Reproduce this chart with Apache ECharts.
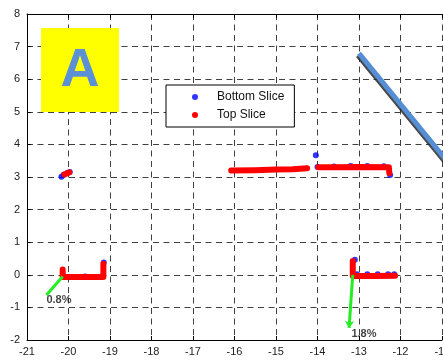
<!DOCTYPE html>
<html>
<head>
<meta charset="utf-8">
<script src="https://cdn.jsdelivr.net/npm/echarts@6/dist/echarts.min.js"></script>
<style>
  html, body { margin: 0; padding: 0; background: #fff; }
  #chart { width: 443px; height: 360px; }
</style>
</head>
<body>
<div id="chart"></div>
<script>
// axis ticks
const xTicks = [-21, -11];
const yTicks = [-2, 8];

// bottom slice points (blue)
const bottomSlice = [
    [-20.17, 3.01], [-20.12, 3.06], [-20.02, 3.13], [-19.97, 3.15],
    [-14.04, 3.67], [-14.0, 3.31], [-13.6, 3.32], [-13.2, 3.34], [-12.8, 3.34], [-12.4, 3.33], [-12.25, 3.06],
    [-19.15, 0.38], [-20.13, -0.03], [-19.6, -0.05],
    [-13.1, 0.46], [-13.05, 0.02], [-12.8, 0.02], [-12.55, 0.02], [-12.3, 0.02], [-12.15, 0.02]
];

// top slice segments (red)
const topSlice = [
    [[-20.1, 3.08], [-19.98, 3.14]],
    [[-16.08, 3.2], [-15.5, 3.21], [-15.0, 3.23], [-14.6, 3.24], [-14.25, 3.27]],
    [[-13.98, 3.3], [-13.5, 3.3], [-13.0, 3.31], [-12.28, 3.3], [-12.27, 3.12]],
    [[-20.14, 0.16], [-20.14, -0.07], [-19.6, -0.07], [-19.16, -0.07], [-19.16, 0.34]],
    [[-13.15, 0.42], [-13.15, -0.04], [-12.6, -0.04], [-12.13, -0.03]]
];

// shift arrows and their labels
const shiftA = [[-20.14, -0.05], [-20.53, -0.62]];
const shiftB = [[-13.15, 0.0], [-13.24, -1.63]];
const shiftLabels = [[-20.23, -0.78, '0.8%'], [-12.88, -1.83, '1.8%']];

// diagonal reference line
const diagLine = [[-13.0, 6.79], [-10.9, 3.52]];

const chart = echarts.init(document.getElementById('chart'));

const dash = {type: [6, 4.5], color: '#404040', width: 1};
const tickFont = {fontFamily: 'Liberation Sans, Arial', fontSize: 11, color: '#222'};

const series = [];
topSlice.forEach(function (seg) {
    series.push({
        name: 'Top Slice',
        type: 'line',
        data: seg,
        symbol: 'none',
        z: 3,
        lineStyle: {color: '#ff0000', width: 6, cap: 'round', join: 'round'},
        itemStyle: {color: '#ff0000'}
    });
});
series.unshift({
    name: 'Bottom Slice',
    type: 'scatter',
    data: bottomSlice,
    symbolSize: 6,
    z: 2,
    itemStyle: {color: '#0000ff'}
});
series.push({
    type: 'line',
    data: shiftA,
    symbol: 'none',
    z: 4,
    lineStyle: {color: '#22ee22', width: 3}
});
series.push({
    type: 'line',
    data: [],
    z: 4,
    markLine: {
        silent: true,
        symbol: ['none', 'arrow'],
        symbolSize: [7, 7],
        label: {show: false},
        lineStyle: {color: '#22ee22', width: 3, type: 'solid'},
        data: [[{coord: shiftB[0]}, {coord: shiftB[1]}]]
    }
});
series.push({
    type: 'scatter',
    data: shiftLabels,
    symbolSize: 0,
    z: 5,
    label: {
        show: true,
        position: 'inside',
        formatter: function (p) { return p.value[2]; },
        fontFamily: 'Liberation Sans, Arial',
        fontWeight: 'bold',
        fontSize: 11,
        color: '#111'
    }
});
series.push({
    type: 'line',
    data: diagLine,
    symbol: 'none',
    z: 3,
    lineStyle: {
        color: '#558ed5', width: 5,
        shadowColor: 'rgba(40,40,40,0.85)', shadowBlur: 0, shadowOffsetX: -1, shadowOffsetY: 2
    }
});

const option = {
    backgroundColor: '#fff',
    animation: false,
    grid: {left: 27, top: 14, right: 1, bottom: 20, outerBoundsMode: 'none', containLabel: false},
    legend: {
        orient: 'vertical',
        left: 166,
        top: 85,
        padding: [6, 10, 6, 26],
        itemWidth: 34,
        itemHeight: 6,
        itemGap: 6,
        borderColor: '#000',
        borderWidth: 1,
        backgroundColor: '#fff',
        textStyle: {fontFamily: 'Liberation Sans, Arial', fontSize: 12, color: '#111'},
        data: [
            {name: 'Bottom Slice', icon: 'circle', itemStyle: {color: '#0000ff'}},
            {name: 'Top Slice', icon: 'circle', itemStyle: {color: '#ff0000'}}
        ]
    },
    xAxis: [{
        type: 'value',
        min: xTicks[0], max: xTicks[1], interval: 1,
        axisLine: {onZero: false, lineStyle: {color: '#000', width: 1}},
        axisTick: {inside: true, length: 4, lineStyle: {color: '#000'}},
        axisLabel: Object.assign({margin: 6, hideOverlap: false}, tickFont),
        splitLine: {show: true, lineStyle: dash}
    }, {
        type: 'value',
        position: 'top',
        min: xTicks[0], max: xTicks[1], interval: 1,
        axisLine: {onZero: false, lineStyle: {color: '#000', width: 1}},
        axisTick: {inside: true, length: 4, lineStyle: {color: '#000'}},
        axisLabel: {show: false},
        splitLine: {show: false}
    }],
    yAxis: {
        type: 'value',
        min: yTicks[0], max: yTicks[1], interval: 1,
        axisLine: {onZero: false, lineStyle: {color: '#000', width: 1}},
        axisTick: {inside: true, length: 4, lineStyle: {color: '#000'}},
        axisLabel: Object.assign({margin: 7}, tickFont),
        splitLine: {show: true, lineStyle: dash}
    },
    graphic: [{
        type: 'rect',
        shape: {x: 41, y: 28, width: 78, height: 84},
        style: {fill: '#ffff00'},
        z: 10
    }, {
        type: 'text',
        x: 80, y: 71,
        style: {
            text: 'A', fill: '#5b8fd6',
            font: 'bold 54px Liberation Sans, Arial',
            align: 'center', verticalAlign: 'middle'
        },
        z: 11
    }],
    series: series
};

chart.setOption(option);
</script>
</body>
</html>
